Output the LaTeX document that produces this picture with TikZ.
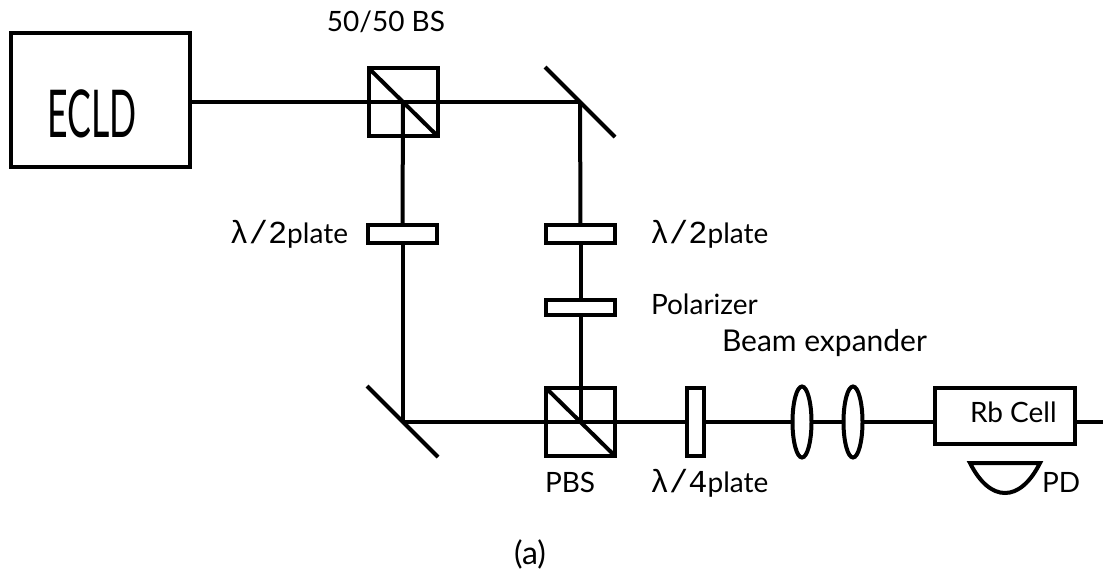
\documentclass[tikz,border=0pt]{standalone}
\usepackage{fontspec}
\usepackage{graphicx}
\setmainfont{Lato}
\newfontfamily\lammono{Liberation Mono}
\usetikzlibrary{positioning,shapes.geometric}
\tikzset{every node/.style={font=\fontsize{28}{32}\selectfont}}
\newcommand{\waveplate}[1]{{\lammono\fontsize{32}{32}\selectfont λ/#1}plate}

\begin{document}
\begin{tikzpicture}[
x=1pt,y=-1pt,
line width=4pt,
box/.style={draw,rectangle,inner sep=0pt,outer sep=0pt},
cube/.style={box,minimum width=69pt,minimum height=68pt},
plate/.style={box,minimum width=69pt,minimum height=18pt},
lens/.style={draw,ellipse,inner sep=0pt,outer sep=0pt,minimum width=19pt,minimum height=71pt},
label/.style={inner sep=0pt}
]
\useasboundingbox (0,0) rectangle (1103,573);

\node (ecld) [box,minimum width=179pt,minimum height=134pt] at (100.5,100) {};
\node [label,anchor=base,font=\fontsize{66}{66}\selectfont] at (92,137) {\scalebox{0.54}[1]{ECLD}};

\node (bs) [cube] at (403,102) {};
\node (platel) [plate] at (402.5,234) {};
\node (plater) [plate] at (580.5,234) {};
\node (polar) [plate,minimum height=15pt] at (580.5,307.5) {};
\node (pbs) [cube] at (580.5,422) {};
\node (qwp) [box,minimum width=17pt,minimum height=68pt] at (695.5,422) {};
\node (lensa) [lens] at (802,422) {};
\node (lensb) [lens] at (853,422) {};
\node (cell) [box,minimum width=140pt,minimum height=56pt] at (1005,416) {};

\coordinate (mirrora) at (580,102);
\coordinate (mirrorb) at (402.5,422);
\coordinate (out) at (1103,422);
\coordinate (ma1) at (545,67);
\coordinate (ma2) at (615,137);
\coordinate (mb1) at (367,386);
\coordinate (mb2) at (438,457);

% beams
\draw (ecld.east |- bs) -- (mirrora);
\draw (bs.center) -- (platel.north);
\draw (platel.south) -- (mirrorb);
\draw (mirrora) -- (plater.north);
\draw (plater.south) -- (polar.north);
\draw (polar.south) -- (pbs.center);
\draw (mirrorb) -- (qwp.west);
\draw (qwp.east) -- (lensa.west);
\draw (lensa.east) -- (lensb.west);
\draw (lensb.east) -- (cell.west |- lensb);
\draw (cell.east |- lensb) -- (out);

% splitters and mirrors
\draw (bs.north west) -- (bs.south east);
\draw (pbs.north west) -- (pbs.south east);
\draw (ma1) -- (ma2);
\draw (mb1) -- (mb2);

% detector
\coordinate (pdl) at (970,463);
\coordinate (pdr) at (1040,463);
\draw (pdl) -- (pdr) .. controls (1020,503) and (990,503) .. cycle;

\node [label,anchor=base east] at (447,31) {50/50 BS};
\node [label,anchor=base east] at (350,243) {\waveplate{2}};
\node [label,anchor=base west] at (648,243) {\waveplate{2}};
\node [label,anchor=base west] at (649,314) {Polarizer};
\node [label,anchor=base west,font=\fontsize{30}{32}\selectfont] at (720,351) {Beam expander};
\node [label,anchor=base west] at (968,422) {Rb Cell};
\node [label,anchor=base west] at (543,492) {PBS};
\node [label,anchor=base west] at (648,492) {\waveplate{4}};
\node [label,anchor=base west] at (1040,492) {PD};
\node [label,anchor=base east,font=\fontsize{32}{36}\selectfont] at (548,564) {(a)};
\end{tikzpicture}
\end{document}
